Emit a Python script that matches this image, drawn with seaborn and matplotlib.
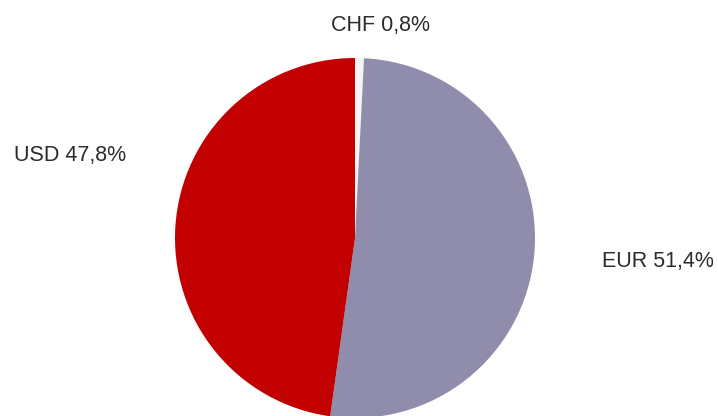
import numpy as np
import matplotlib
matplotlib.use("Agg")
import matplotlib.pyplot as plt
import seaborn as sns

# currency split, clockwise from the top
currencies = ["CHF", "EUR", "USD"]
shares = [0.8, 51.4, 47.8]
label_texts = ["CHF 0,8%", "EUR 51,4%", "USD 47,8%"]
colors = ["#f4f3f6", "#8f8cac", "#c20000"]

sns.set_theme(style="white")
plt.rcParams['font.family'] = ['Liberation Sans', 'DejaVu Sans']

fig = plt.figure(figsize=(7.18, 4.16), dpi=100)
ax = fig.add_axes([0, 0, 1, 1])

wedges, _ = ax.pie(shares, colors=colors, startangle=90, counterclock=False,
                   radius=1.0, wedgeprops=dict(linewidth=0))

# label offsets (in radius units) relative to the pie centre
label_pos = {"CHF": (0.144, 1.183), "EUR": (1.683, -0.133), "USD": (-1.583, 0.456)}
for cur, txt in zip(currencies, label_texts):
    x, y = label_pos[cur]
    ax.text(x, y, txt, ha="center", va="center", fontsize=15.5, color="#2b2b30")

ax.set_xlim(-355 / 180, (718 - 355) / 180)
ax.set_ylim(-(416 - 238) / 180, 238 / 180)
ax.set_aspect("equal")
ax.axis("off")

fig.savefig("out.png", dpi=100, facecolor="white")
